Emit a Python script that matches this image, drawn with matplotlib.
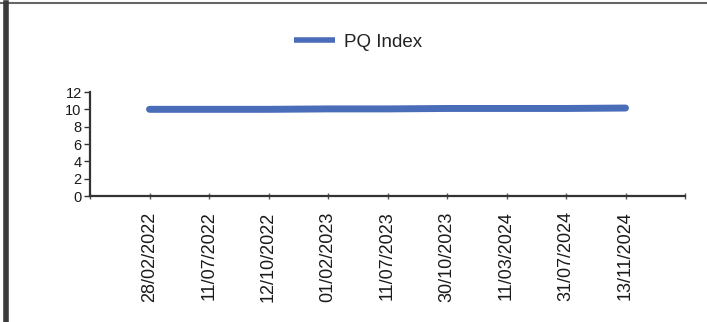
import matplotlib
matplotlib.use("Agg")
import matplotlib.pyplot as plt
from matplotlib.lines import Line2D

plt.rcParams['font.family'] = ['Liberation Sans', 'DejaVu Sans']

dates = ["28/02/2022", "11/07/2022", "12/10/2022", "01/02/2023", "11/07/2023",
         "30/10/2023", "11/03/2024", "31/07/2024", "13/11/2024"]
pq_index = [10.0, 10.0, 10.0, 10.05, 10.05, 10.1, 10.1, 10.1, 10.15]
y_ticks = [0, 2, 4, 6, 8, 10, 12]

W, H = 707, 322
fig = plt.figure(figsize=(W / 100, H / 100), dpi=100)
ax = fig.add_axes([90 / W, 1 - 196 / H, (685 - 90) / W, (196 - 92) / H])

xs = list(range(1, len(dates) + 1))
ax.plot(xs, pq_index, color='#4A6DBA', lw=5, solid_capstyle='round', label='PQ Index')

ax.set_xlim(0, len(dates) + 1)
ax.set_ylim(0, 12)
ax.set_yticks(y_ticks)
ax.set_yticklabels([str(v) for v in y_ticks], fontsize=10.5, color='#1a1a1a')
ax.set_xticks(range(0, len(dates) + 2))
ax.set_xticklabels([''] + dates + [''], rotation=90, fontsize=13, color='#1a1a1a')
ax.tick_params(axis='y', direction='out', length=4, width=1, color='#333333', pad=2)
ax.tick_params(axis='x', direction='inout', length=4, width=1, color='#555555', pad=9)
for s in ['top', 'right']:
    ax.spines[s].set_visible(False)
for s in ['left', 'bottom']:
    ax.spines[s].set_color('#333333')
    ax.spines[s].set_linewidth(1.6)

handle = Line2D([], [], color='#4A6DBA', lw=4, solid_capstyle='butt')
fig.legend([handle], ['PQ Index'], loc='center', bbox_to_anchor=(358 / W, 1 - 42 / H),
           frameon=False, fontsize=13.5, handlelength=2.2, handletextpad=0.5,
           labelcolor='#222222')

# scan borders
fig.add_artist(Line2D([0, 1], [1 - 2.5 / H, 1 - 2.5 / H], color='#666666', lw=1.5,
                      transform=fig.transFigure))
fig.add_artist(Line2D([5.5 / W, 5.5 / W], [0, 1 - 3 / H], color='#3a3a3a', lw=4,
                      transform=fig.transFigure))

fig.savefig('out.png', dpi=100)
